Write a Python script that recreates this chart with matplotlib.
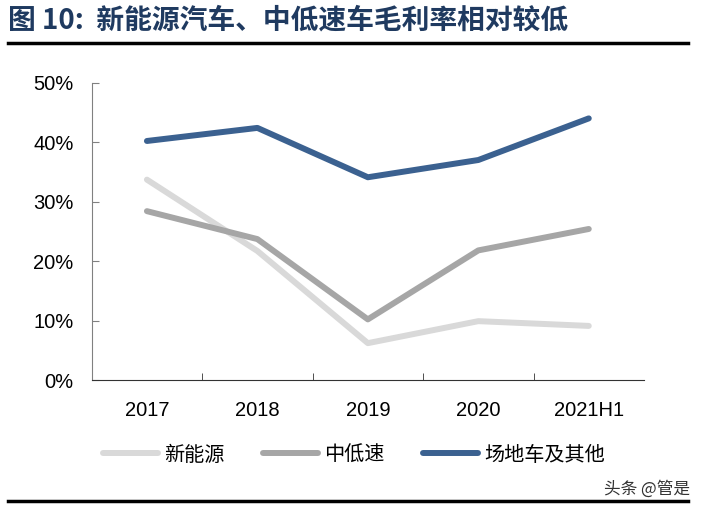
import matplotlib
matplotlib.use("Agg")
import matplotlib.pyplot as plt
from matplotlib.lines import Line2D
from matplotlib.ticker import PercentFormatter

plt.rcParams['font.family'] = ['Liberation Sans', 'Noto Sans CJK SC', 'DejaVu Sans']

categories = ['2017', '2018', '2019', '2020', '2021H1']
new_energy = [33.7, 21.7, 6.2, 9.9, 9.1]
low_speed = [28.4, 23.7, 10.2, 21.8, 25.4]
field_other = [40.2, 42.4, 34.1, 37.0, 44.0]

series_names = ['新能源', '中低速', '场地车及其他']
colors = ['#D9D9D9', '#A6A6A6', '#3B6190']

fig = plt.figure(figsize=(7.01, 5.09), dpi=100)
ax = fig.add_axes([0.1308, 0.2534, 0.7879, 0.5841])

x = list(range(len(categories)))
for vals, c in zip([new_energy, low_speed, field_other], colors):
    ax.plot(x, vals, color=c, lw=4.3, solid_capstyle='round', solid_joinstyle='round')

ax.set_xlim(-0.5, len(categories) - 0.5)
ax.set_ylim(0, 50)
ax.set_yticks(range(0, 51, 10))
ax.yaxis.set_major_formatter(PercentFormatter(decimals=0))
ax.set_xticks(x)
ax.set_xticklabels(categories)
ax.set_xticks([i + 0.5 for i in x[:-1]], minor=True)
ax.tick_params(axis='x', which='major', length=0, pad=15, labelsize=14.5)
ax.tick_params(axis='x', which='minor', direction='in', length=5, color='#333333')
ax.tick_params(axis='y', direction='in', length=5, color='#808080', labelsize=14.5, pad=13)

for s in ['top', 'right']:
    ax.spines[s].set_visible(False)
ax.spines['left'].set_color('#808080')
ax.spines['bottom'].set_color('#333333')

# title and rules
fig.text(0.012, 0.96, '图 10:  新能源汽车、中低速车毛利率相对较低', fontsize=20,
         fontweight='bold', color='#1F3A60', family=['Noto Sans CJK SC'], va='center')
fig.add_artist(Line2D([0.012, 0.982], [0.915, 0.915], color='black', lw=2.5))
fig.add_artist(Line2D([0.012, 0.982], [0.016, 0.016], color='black', lw=2.5))

# legend
handles = [Line2D([], [], color=c, lw=4.3, solid_capstyle='round') for c in colors]
fig.legend(handles, series_names, loc='center', bbox_to_anchor=(0.505, 0.106), ncol=3,
           frameon=False, handlelength=2.75, handletextpad=0.3, columnspacing=1.9,
           prop={'family': 'Noto Sans CJK SC', 'size': 14.5})

fig.text(0.985, 0.04, '头条 @管是', fontsize=12, color='#333333',
         family=['Noto Sans CJK SC'], ha='right', va='center')

fig.savefig('out.png', dpi=100)
